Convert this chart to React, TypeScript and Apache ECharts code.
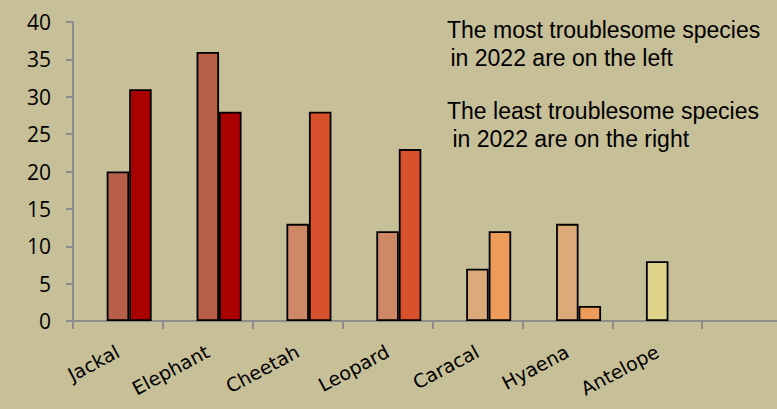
import React, { useEffect, useRef } from "react";
import * as echarts from "echarts";

const categories = ["Jackal", "Elephant", "Cheetah", "Leopard", "Caracal", "Hyaena", "Antelope", ""];
const emptySeries: (number | null)[] = [null, null, null, null, null, null, null, null];
const leftValues: (number | null)[] = [20, 36, 13, 12, 7, 13, 8, null];
const rightValues: (number | null)[] = [31, 28, 28, 23, 12, 2, null, null];
const leftColors = ["#b85f4a", "#b85f4a", "#ce8866", "#ce8866", "#dba97a", "#dbaa78", "#e0d38a", "#e0d38a"];
const rightColors = ["#ab0000", "#ab0000", "#d9502c", "#d9502c", "#ec9c58", "#ec9c58", "#ec9c58", "#ec9c58"];
const yTicks = { min: 0, max: 40, interval: 5 };
const notes = [
  "The most troublesome species",
  "in 2022 are on the left",
  "The least troublesome species",
  "in 2022 are on the right",
];

export default function App() {
  const ref = useRef<HTMLDivElement>(null);
  useEffect(() => {
    if (!ref.current) return;
    const chart = echarts.init(ref.current, null, { renderer: "svg" });
    const barStyle = { borderColor: "#000", borderWidth: 1.8 };
    const mk = (vals: (number | null)[], colors: string[]) =>
      vals.map((v, i) => ({ value: v, itemStyle: { color: colors[i] } }));
    const noteStyle = { fontFamily: "Liberation Sans", fontSize: 23, fill: "#000", verticalAlign: "middle" as const };
    chart.setOption({
      animation: false,
      backgroundColor: "#c6bf98",
      grid: { left: 73, top: 22, bottom: 88, right: 0, containLabel: false },
      xAxis: {
        type: "category",
        data: categories,
        axisLine: { show: true, lineStyle: { color: "#8c8c8c", width: 2 } },
        axisTick: { show: true, length: 8, lineStyle: { color: "#8c8c8c", width: 2 } },
        axisLabel: { rotate: 28, fontFamily: "DejaVu Sans", fontSize: 19, color: "#000", margin: 29, interval: 0 },
      },
      yAxis: {
        type: "value",
        min: yTicks.min,
        max: yTicks.max,
        interval: yTicks.interval,
        axisLine: { show: true, lineStyle: { color: "#8c8c8c", width: 2 } },
        axisTick: { show: true, length: 7, lineStyle: { color: "#8c8c8c", width: 2 } },
        splitLine: { show: false },
        axisLabel: { fontFamily: "Open Sans", fontSize: 21, color: "#000", margin: 22 },
      },
      series: [
        { type: "bar", data: emptySeries, barWidth: 22.5, barGap: "0%", itemStyle: barStyle },
        { type: "bar", data: mk(leftValues, leftColors), barWidth: 22.5, barGap: "0%", itemStyle: barStyle },
        { type: "bar", data: mk(rightValues, rightColors), barWidth: 22.5, barGap: "0%", itemStyle: barStyle },
      ],
      graphic: [
        { type: "text", x: 447, y: 29.5, style: { text: notes[0], ...noteStyle } },
        { type: "text", x: 450.5, y: 58, style: { text: notes[1], ...noteStyle } },
        { type: "text", x: 447, y: 110.5, style: { text: notes[2], ...noteStyle } },
        { type: "text", x: 452.5, y: 138.7, style: { text: notes[3], ...noteStyle } },
      ],
    });
    return () => chart.dispose();
  }, []);
  return <div ref={ref} style={{ position: "fixed", left: 0, top: 0, width: 792, height: 409 }} />;
}
